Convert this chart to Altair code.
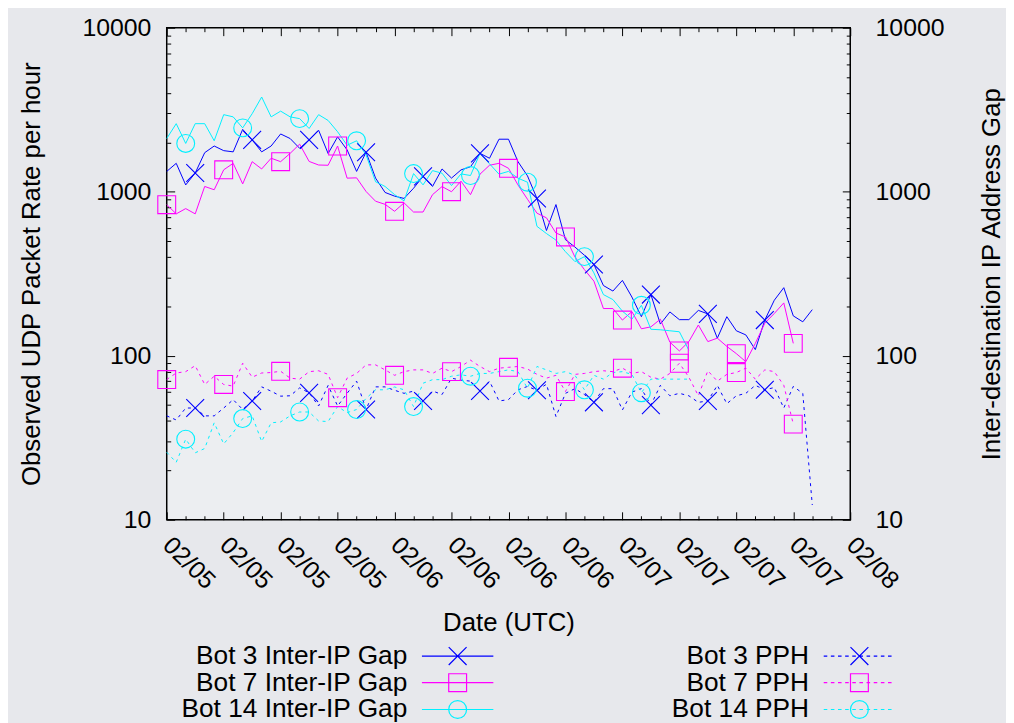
import json
import pandas as pd
import altair as alt

# ---------------- data ----------------
X_TICK_VALUES = list(range(0, 73, 6))
X_TICK_LABELS = ["02/05", "02/05", "02/05", "02/05", "02/06", "02/06", "02/06",
                 "02/06", "02/07", "02/07", "02/07", "02/07", "02/08"]
X_MINOR = [h for h in range(0, 73, 2) if h % 6]
Y_TICK_VALUES = [10, 100, 1000, 10000]
Y_MINOR = [m * 10 ** e for e in (1, 2, 3) for m in range(2, 10)]

SERIES = ["Bot 3 Inter-IP Gap", "Bot 3 PPH", "Bot 7 Inter-IP Gap", "Bot 7 PPH",
          "Bot 14 Inter-IP Gap", "Bot 14 PPH"]
KINDS = ["iig", "pph", "iig", "pph", "iig", "pph"]
COLORS = ["#0000ff", "#0000ff", "#ff00ff", "#ff00ff", "#00f0ff", "#00f0ff"]
MARKER_START = [3, 3, 0, 0, 2, 2]

B3_IIG = [1330, 1490, 1100, 1300, 1730, 1900, 1780, 1750, 2400, 2070,
          1750, 1900, 2250, 2110, 1840, 2070, 2370, 1710, 2160, 1800,
          1330, 1740, 1210, 990, 940, 910, 1050, 1240, 1077, 1377,
          1211, 1359, 1420, 1714, 1600, 2090, 2090, 1525, 1250, 910,
          580, 835, 510, 460, 410, 360, 268, 248, 288, 228,
          173, 236, 156, 185, 166, 166, 189, 180, 128, 173,
          142, 134, 109, 165, 218, 260, 175, 161, 191]
B7_IIG = [834, 733, 789, 733, 1077, 1028, 1360, 1490, 1116, 1525,
          1377, 1600, 1525, 1714, 1950, 1530, 1455, 1450, 1900, 1210,
          1215, 1003, 875, 838, 760, 855, 752, 752, 960, 1075,
          1000, 1160, 960, 1280, 1450, 1490, 1390, 1100, 900, 740,
          693, 560, 530, 400, 335, 285, 194, 194, 165, 186,
          146, 150, 167, 121, 107, 122, 154, 122, 128, 114,
          103, 92, 119, 158, 181, 210, 119]
B14_IIG = [2110, 2600, 1970, 2600, 2600, 2045, 2950, 2860, 2450, 2990,
           3780, 2860, 3100, 2860, 2790, 2430, 2950, 2720, 2320, 1920,
           2045, 1675, 1150, 1077, 960, 880, 1290, 1101, 1345, 1297,
           1090, 1285, 1255, 1714, 1480, 1280, 1330, 1210, 1143, 615,
           556, 507, 431, 375, 402, 320, 236, 220, 187, 167,
           203, 145, 144, 142, 140, 108]
B3_PPH = [43, 40.6, 48, 48, 43, 43, 48, 54, 47, 53,
          64.6, 60.8, 56.7, 57, 63.7, 59.4, 49.4, 65.9, 49.4, 59,
          70, 47, 64.6, 64.6, 61.6, 59, 60.8, 53, 61, 58,
          73, 71, 70, 61, 70, 53, 54, 62, 65, 61.6,
          67, 42.6, 59, 63, 58, 52, 63, 63, 46.7, 60,
          63, 50, 66, 57, 59, 57, 52, 53, 66, 51,
          57, 59, 66, 62, 64, 48, 65, 59, 12.3]
B7_PPH = [71.6, 78.5, 80, 87, 66.8, 75, 66.8, 65.3, 90, 74,
          78.5, 79, 80.4, 73, 72, 80, 81, 77, 55.5, 73,
          78, 88, 88, 82, 76, 80, 82, 82, 78, 84,
          80, 86, 94, 86, 80, 84, 85, 86, 83, 77,
          73, 76, 60.5, 77, 78, 80, 81, 80, 84, 78,
          80, 74, 72, 78, 90, 74, 57, 81, 70, 77,
          79, 84, 72, 82, 80, 66, 38.3]
B14_PPH = [25.8, 22.4, 31, 25.6, 27.2, 39, 29, 34, 41.4, 43,
           30, 39, 39.5, 43, 45.4, 45.4, 40, 39.7, 49, 45,
           47, 55, 62, 62, 64.5, 62, 49, 68, 71.5, 71.5,
           75, 76.5, 75, 78, 78, 80, 82, 80, 63.4, 86,
           82, 78, 80, 76, 62, 76, 72, 79, 80, 77,
           59.5, 72, 72, 72, 72, 72]

VALUES = [B3_IIG, B3_PPH, B7_IIG, B7_PPH, B14_IIG, B14_PPH]

rows = []
for name, kind, start, vals in zip(SERIES, KINDS, MARKER_START, VALUES):
    for h, v in enumerate(vals):
        rows.append({"series": name, "kind": kind, "hour": h, "value": v,
                     "marker": (h - start) % 6 == 0})
df = pd.DataFrame(rows)

# ---------------- styling ----------------
W, H = 689, 496
FONT = "Liberation Sans"

MARK_X = "M-1,-1L1,1M-1,1L1,-1"
MARK_SQ = "M-1,-1L1,-1L1,1L-1,1Z"
MARK_O = "M-1,0A1,1 0 1,0 1,0A1,1 0 1,0 -1,0"
MARKER_PATHS = [MARK_X, MARK_X, MARK_SQ, MARK_SQ, MARK_O, MARK_O]

LEG_X = "M-0.75,-0.75L0.75,0.75M-0.75,0.75L0.75,-0.75"
LEG_SQ = "M-0.75,-0.75L0.75,-0.75L0.75,0.75L-0.75,0.75Z"
LEG_O = "M-0.75,0A0.75,0.75 0 1,0 0.75,0A0.75,0.75 0 1,0 -0.75,0"
LINE_SOLID = "M-3,0L3,0"
LINE_DOT = "".join("M%.2f,0L%.2f,0" % (-3 + 0.6 * k, -3 + 0.6 * k + 0.3) for k in range(10))
LEGEND_PATHS = [LINE_SOLID + LEG_X, LINE_DOT + LEG_X, LINE_SOLID + LEG_SQ,
                LINE_DOT + LEG_SQ, LINE_SOLID + LEG_O, LINE_DOT + LEG_O]
SYMBOL_EXPR = "%s[indexof(%s, datum.value)]" % (json.dumps(LEGEND_PATHS), json.dumps(SERIES))

# legend order: the legend fills its two columns top to bottom,
# so the Inter-IP series come first and the PPH series second
LEGEND_IDX = [0, 2, 4, 1, 3, 5]
LEGEND_ORDER = [SERIES[i] for i in LEGEND_IDX]

x_scale = alt.Scale(domain=[0, 72], nice=False, zero=False)
y_scale = alt.Scale(type="log", domain=[10, 10000], nice=False)
color_scale = alt.Scale(domain=SERIES, range=COLORS)
shape_scale = alt.Scale(domain=SERIES, range=MARKER_PATHS)
stroke_scale = alt.Scale(domain=LEGEND_ORDER, range=[COLORS[i] for i in LEGEND_IDX])


def tick_axis(orient, values, length):
    return alt.Axis(orient=orient, values=values, labels=False, domain=False,
                    grid=False, ticks=True, tickSize={"expr": str(-length)},
                    tickColor="black", tickWidth=1, title=None)


x_label_axis = alt.Axis(
    orient="bottom", values=X_TICK_VALUES,
    labelExpr=json.dumps(X_TICK_LABELS) + "[round(datum.value / 6)]",
    labelAngle=45, labelAlign="left", labelBaseline="middle", labelPadding=21,
    labelFontSize=25, labelColor="black", labelOverlap=False, labelFlush=False,
    ticks=False, domain=False, grid=False,
    title="Date (UTC)", titleFontSize=26, titleFontWeight="normal",
    titleColor="black", titleY=104, titleBaseline="middle")

y_left_axis = alt.Axis(
    orient="left", values=Y_TICK_VALUES, format="d", labelFontSize=25,
    labelColor="black", labelPadding=16, labelFlush=False, labelOverlap=False,
    ticks=False, domain=False, grid=False,
    title="Observed UDP Packet Rate per hour", titleFontSize=26,
    titleFontWeight="normal", titleColor="black", titleX=-136,
    titleBaseline="middle")

y_right_axis = alt.Axis(
    orient="right", values=Y_TICK_VALUES, format="d", labelFontSize=25,
    labelColor="black", labelPadding=25, labelFlush=False, labelOverlap=False,
    ticks=False, domain=False, grid=False,
    title="Inter-destination IP Address Gap", titleFontSize=26,
    titleFontWeight="normal", titleColor="black", titleAngle=270, titleX=142,
    titleBaseline="middle")

legend = alt.Legend(
    orient="none", legendX=280, legendY=620, columns=2, title=None, padding=0,
    labelFont=FONT, labelFontSize=26.5, labelColor="black", labelAlign="right",
    labelBaseline="middle", labelOffset={"expr": "-64"}, labelLimit=0,
    symbolType={"expr": SYMBOL_EXPR}, symbolSize=576, symbolStrokeWidth=1.2,
    symbolFillColor="transparent", rowPadding=0, columnPadding=177)

base = alt.Chart(df)

pph_lines = base.transform_filter(alt.datum.kind == "pph").mark_line(
    strokeWidth=1, strokeDash=[3, 4]).encode(
    x=alt.X("hour:Q", scale=x_scale, axis=x_label_axis),
    y=alt.Y("value:Q", scale=y_scale, axis=y_left_axis),
    color=alt.Color("series:N", scale=color_scale, legend=None),
)

iig_lines = base.transform_filter(alt.datum.kind == "iig").mark_line(
    strokeWidth=1).encode(
    x=alt.X("hour:Q", scale=x_scale, axis=tick_axis("bottom", X_TICK_VALUES, 8)),
    y=alt.Y("value:Q", scale=y_scale, axis=y_right_axis),
    color=alt.Color("series:N", scale=color_scale, legend=None),
)

pph_marks = base.transform_filter(
    (alt.datum.kind == "pph") & alt.datum.marker).mark_point(
    filled=False, size=324, strokeWidth=1.1, opacity=1).encode(
    x=alt.X("hour:Q", scale=x_scale, axis=tick_axis("bottom", X_MINOR, 4)),
    y=alt.Y("value:Q", scale=y_scale, axis=tick_axis("left", Y_TICK_VALUES, 8)),
    color=alt.Color("series:N", scale=color_scale, legend=None),
    shape=alt.Shape("series:N", scale=shape_scale, legend=None),
)

iig_marks = base.transform_filter(
    (alt.datum.kind == "iig") & alt.datum.marker).mark_point(
    filled=False, size=324, strokeWidth=1.1, opacity=1).encode(
    x=alt.X("hour:Q", scale=x_scale, axis=tick_axis("top", X_TICK_VALUES, 8)),
    y=alt.Y("value:Q", scale=y_scale, axis=tick_axis("left", Y_MINOR, 4)),
    color=alt.Color("series:N", scale=color_scale, legend=None),
    shape=alt.Shape("series:N", scale=shape_scale, legend=None),
)

legend_layer = base.transform_filter("false").mark_point(
    filled=False, opacity=1).encode(
    x=alt.X("hour:Q", scale=x_scale, axis=tick_axis("top", X_MINOR, 4)),
    y=alt.Y("value:Q", scale=y_scale, axis=tick_axis("right", Y_TICK_VALUES, 8)),
    stroke=alt.Stroke("series:N", scale=stroke_scale, legend=legend),
)

minor_right = base.transform_filter("false").mark_point(opacity=0).encode(
    y=alt.Y("value:Q", scale=y_scale, axis=tick_axis("right", Y_MINOR, 4)),
)

chart = alt.layer(
    pph_lines, iig_lines, pph_marks, iig_marks, legend_layer, minor_right
).resolve_axis(
    x="independent", y="independent"
).properties(
    width=W, height=H, background="#e7e8ec",
    padding={"left": 160, "top": 17, "right": 157, "bottom": 202},
    autosize=alt.AutoSizeParams(type="none"),
).configure(
    font=FONT
).configure_view(
    stroke="black", strokeWidth=1.5, fill="#eceef1"
)

chart.save("out.html", embed_options={"renderer": "svg", "actions": False})
